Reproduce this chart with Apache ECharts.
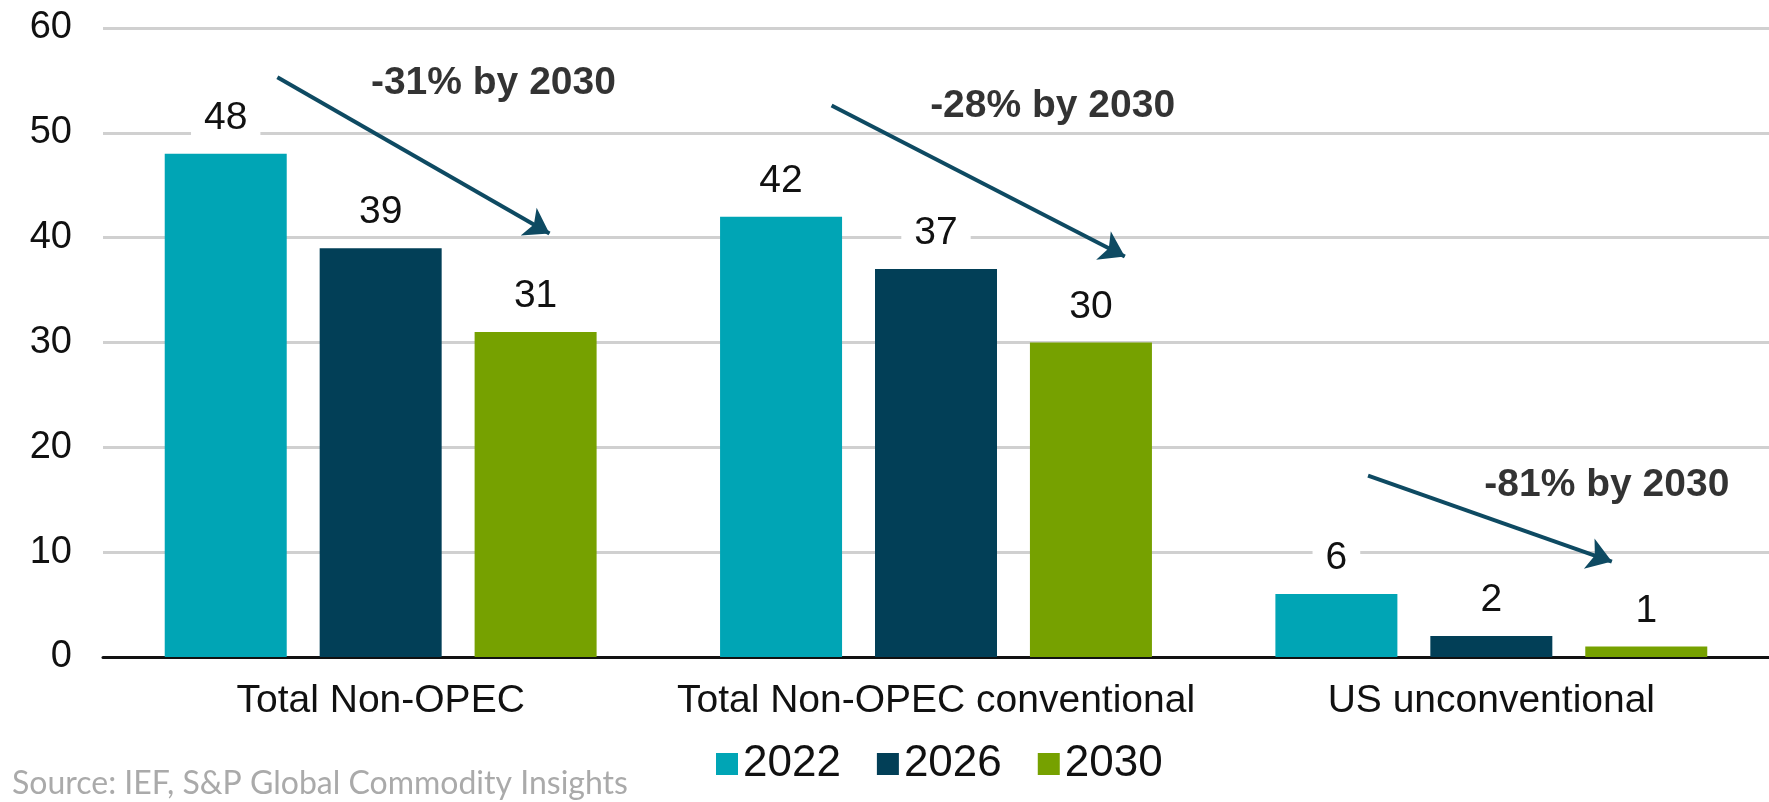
<!DOCTYPE html>
<html>
<head>
<meta charset="utf-8">
<title>Non-OPEC supply outlook</title>
<script src="https://cdn.jsdelivr.net/npm/echarts@6/dist/echarts.min.js"></script>
<style>
  html, body { margin: 0; padding: 0; background: #ffffff; }
  #chart { width: 1769px; height: 802px; }
</style>
</head>
<body>
<div id="chart"></div>
<script>
// Series data
const categories = ['Total Non-OPEC', 'Total Non-OPEC conventional', 'US unconventional'];
const years = ['2022', '2026', '2030'];
const values2022 = [48, 42, 6];
const values2026 = [39, 37, 2];
const values2030 = [31, 30, 1];
const changeLabels = ['-31% by 2030', '-28% by 2030', '-81% by 2030'];
const yTicks = { min: 0, max: 60, step: 10 };

// Annotation placement, in chart units (x runs 0..3 across the three groups)
const arrowPaths = [
  [[0.314, 55.3], [0.804, 40.4]],
  [[1.312, 52.6], [1.840, 38.2]],
  [[2.278, 17.3], [2.717, 9.1]]
];
const changeAnchors = [[0.703, 54.7], [1.710, 52.5], [2.708, 16.4]];

const colors = ['#00a5b5', '#023f57', '#76a100'];
const arrowColor = '#0e4a62';
const FONT = '"Liberation Sans", Arial, sans-serif';

const chart = echarts.init(document.getElementById('chart'), null, { renderer: 'canvas' });

const barLabel = {
  show: true,
  position: 'top',
  distance: 16,
  fontFamily: FONT,
  fontSize: 39,
  color: '#111111',
  backgroundColor: '#ffffff',
  padding: [0, 13],
  formatter: p => String(p.value)
};

function barSeries(name, data, color) {
  return {
    name: name,
    type: 'bar',
    xAxisIndex: 0,
    yAxisIndex: 0,
    data: data,
    barWidth: 122,
    barGap: '27%',
    itemStyle: { color: color },
    label: barLabel,
    z: 2
  };
}

const option = {
  animation: false,
  backgroundColor: '#ffffff',
  textStyle: { fontFamily: FONT },
  grid: { left: 103, top: 28, width: 1692, height: 629, containLabel: false },
  legend: {
    data: years,
    left: 716,
    top: 742,
    padding: 0,
    icon: 'rect',
    itemWidth: 22,
    itemHeight: 22,
    itemGap: 36,
    textStyle: { fontFamily: FONT, fontSize: 44, color: '#111111' }
  },
  xAxis: [
    {
      type: 'category',
      data: categories,
      boundaryGap: true,
      axisLine: { show: true, lineStyle: { color: '#111111', width: 3 } },
      axisTick: { show: false },
      axisLabel: { interval: 0, fontFamily: FONT, fontSize: 39, color: '#111111', margin: 25 },
      splitLine: { show: false }
    },
    {
      type: 'value',
      min: 0,
      max: 3,
      show: false
    }
  ],
  yAxis: {
    type: 'value',
    min: yTicks.min,
    max: yTicks.max,
    interval: yTicks.step,
    axisLine: { show: false },
    axisTick: { show: false },
    axisLabel: { fontFamily: FONT, fontSize: 38, color: '#111111', margin: 31 },
    splitLine: { show: true, lineStyle: { color: '#d0d0d0', width: 3 } }
  },
  series: [
    barSeries(years[0], values2022, colors[0]),
    barSeries(years[1], values2026, colors[1]),
    barSeries(years[2], values2030, colors[2]),
    {
      name: 'change arrows',
      type: 'lines',
      coordinateSystem: 'cartesian2d',
      xAxisIndex: 1,
      yAxisIndex: 0,
      symbol: ['none', 'arrow'],
      symbolSize: 24,
      lineStyle: { color: arrowColor, width: 4, opacity: 1 },
      data: arrowPaths.map(p => ({ coords: p })),
      z: 5,
      silent: true
    },
    {
      name: 'change labels',
      type: 'scatter',
      xAxisIndex: 1,
      yAxisIndex: 0,
      symbolSize: 0,
      data: changeAnchors.map((c, i) => ({ value: c, name: changeLabels[i] })),
      label: {
        show: true,
        position: 'inside',
        formatter: p => p.name,
        fontFamily: FONT,
        fontSize: 39,
        fontWeight: 'bold',
        color: '#000000'
      },
      z: 6,
      silent: true
    }
  ],
  graphic: [
    {
      type: 'text',
      left: 12,
      top: 768,
      style: {
        text: 'Source: IEF, S&P Global Commodity Insights',
        font: '32px Lato, "Open Sans", sans-serif',
        fill: '#aaaaaa'
      }
    }
  ]
};

chart.setOption(option);
</script>
</body>
</html>
